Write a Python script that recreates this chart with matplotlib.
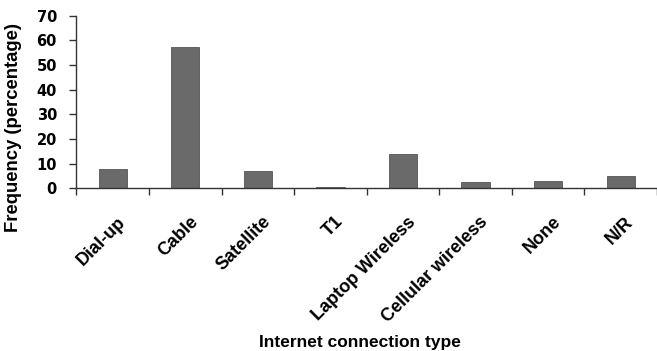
import matplotlib
matplotlib.use("Agg")
import matplotlib.pyplot as plt
import matplotlib.transforms as mtransforms
import numpy as np

categories = ["Dial-up", "Cable", "Satellite", "T1", "Laptop Wireless",
              "Cellular wireless", "None", "N/R"]
values = [7.9, 57.1, 7.1, 0.6, 13.8, 2.5, 2.9, 5.1]
yticks = [0, 10, 20, 30, 40, 50, 60, 70]

plt.rcParams['font.family'] = ['Liberation Sans', 'DejaVu Sans']
plt.rcParams['font.weight'] = 'bold'

fig = plt.figure(figsize=(6.57, 3.51), dpi=100)
ax = fig.add_axes([0.1163, 0.4635, 0.8837, 0.4923])

x = np.arange(len(categories))
ax.bar(x, values, width=0.39, color='#6a6a6a', edgecolor='#555555', linewidth=0.6)

ax.set_xlim(-0.5, len(categories) - 0.5)
ax.set_ylim(0, 70)
ax.set_yticks(yticks)
ax.set_yticklabels([str(t) for t in yticks], fontsize=10.5, fontweight='bold',
                   family=['DejaVu Sans'])

ax.set_xticks(x)
ax.set_xticklabels(categories, rotation=45, ha='right', va='top',
                   rotation_mode='anchor', fontsize=13, fontweight='bold')
ax.tick_params(axis='x', which='major', length=0, pad=18)
shift = mtransforms.ScaledTranslation(4 / 100, 0, fig.dpi_scale_trans)
for lbl in ax.get_xticklabels():
    lbl.set_transform(lbl.get_transform() + shift)

ax.set_xticks(np.arange(-0.5, len(categories) + 0.5, 1.0), minor=True)
ax.tick_params(axis='x', which='minor', length=5, width=1, direction='out', color='#333333')
ax.tick_params(axis='y', length=5, width=1, direction='out', color='#333333', pad=9)

for s in ['top', 'right']:
    ax.spines[s].set_visible(False)
for s in ['left', 'bottom']:
    ax.spines[s].set_color('#333333')
    ax.spines[s].set_linewidth(1)

fig.text(14 / 657, 1 - 127 / 351, "Frequency (percentage)", rotation=90,
         ha='center', va='center', fontsize=13.3, fontweight='bold')
fig.text(360 / 657, 1 - 342 / 351, "Internet connection type", ha='center', va='center',
         fontsize=12.5, fontweight='bold')

fig.savefig("out.png", dpi=100)
